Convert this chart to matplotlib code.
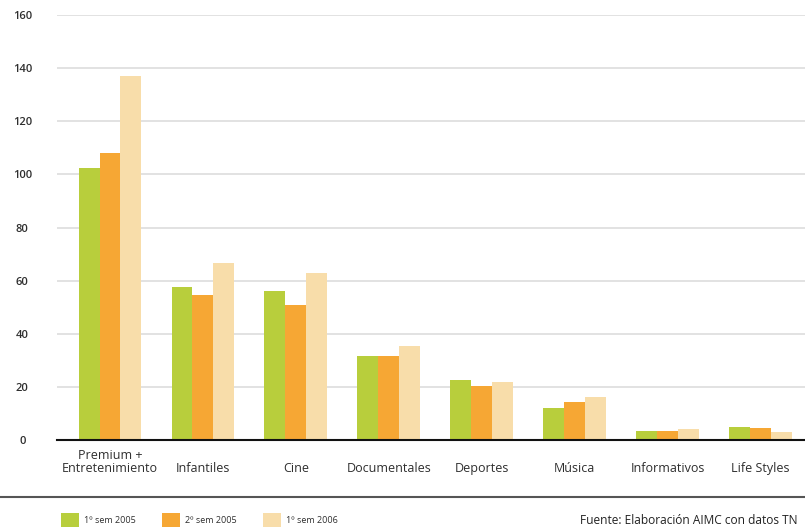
import matplotlib
matplotlib.use("Agg")
import matplotlib.pyplot as plt
import numpy as np
from matplotlib.patches import Patch
from matplotlib.lines import Line2D

categories = ["Premium +\nEntretenimiento", "Infantiles", "Cine", "Documentales",
              "Deportes", "Música", "Informativos", "Life Styles"]
series_names = ["1º sem 2005", "2º sem 2005", "1º sem 2006"]
sem1_2005 = [102.4, 57.7, 56.2, 31.7, 22.6, 12.0, 3.4, 4.9]
sem2_2005 = [108.0, 54.6, 50.8, 31.7, 20.3, 14.3, 3.4, 4.5]
sem1_2006 = [137.0, 66.6, 62.9, 35.4, 21.9, 16.2, 4.1, 3.0]
yticks = [0, 20, 40, 60, 80, 100, 120, 140, 160]
source = "Fuente: Elaboración AIMC con datos TN"

colors = ["#B8CE3C", "#F6A734", "#F8DDAA"]
txt = "#2E2E2E"

plt.rcParams['font.family'] = ['Open Sans', 'DejaVu Sans']

fig = plt.figure(figsize=(8.05, 5.27), dpi=100)
ax = fig.add_axes([57/805, 1 - 440/527, 1 - 57/805, 425/527])

x = np.arange(len(categories))
w = 0.225
for i, (vals, c) in enumerate(zip([sem1_2005, sem2_2005, sem1_2006], colors)):
    ax.bar(x + (i - 1) * w, vals, width=w, color=c, zorder=3, linewidth=0)

ax.set_ylim(0, 160)
ax.set_xlim(-0.57, 7.48)
ax.set_yticks(yticks)
ax.set_yticklabels([str(v) for v in yticks], fontsize=8, color=txt, ha='center',
                   fontweight='semibold')
ax.tick_params(axis='y', length=0, pad=25)
ax.set_xticks(x)
ax.set_xticklabels(categories, fontsize=9, color=txt, linespacing=0.95)
ax.tick_params(axis='x', length=0, pad=23)
for lbl in ax.get_xticklabels():
    lbl.set_verticalalignment('baseline')
ax.yaxis.grid(True, color="#DDDDDD", linewidth=1.2, zorder=0)
for s in ['top', 'right', 'left']:
    ax.spines[s].set_visible(False)
ax.spines['bottom'].set_color('#111111')
ax.spines['bottom'].set_linewidth(1.5)
ax.spines['bottom'].set_zorder(4)

# separator line
fig.add_artist(Line2D([0, 1], [1 - 497/527, 1 - 497/527], color="#555555",
                      linewidth=1.5, transform=fig.transFigure))

handles = [Patch(facecolor=c, edgecolor='none', label=n) for c, n in zip(colors, series_names)]
fig.legend(handles=handles, loc='lower left', bbox_to_anchor=(53/805, -0.015), ncol=3,
           frameon=False, fontsize=6.5, handlelength=1.95, handleheight=1.95,
           handletextpad=0.6, columnspacing=2.9, labelcolor=txt)

fig.text(580/805, 1 - 521/527, source, fontsize=8.6, color="#222222", va='center', ha='left')

fig.savefig("out.png", dpi=100)
